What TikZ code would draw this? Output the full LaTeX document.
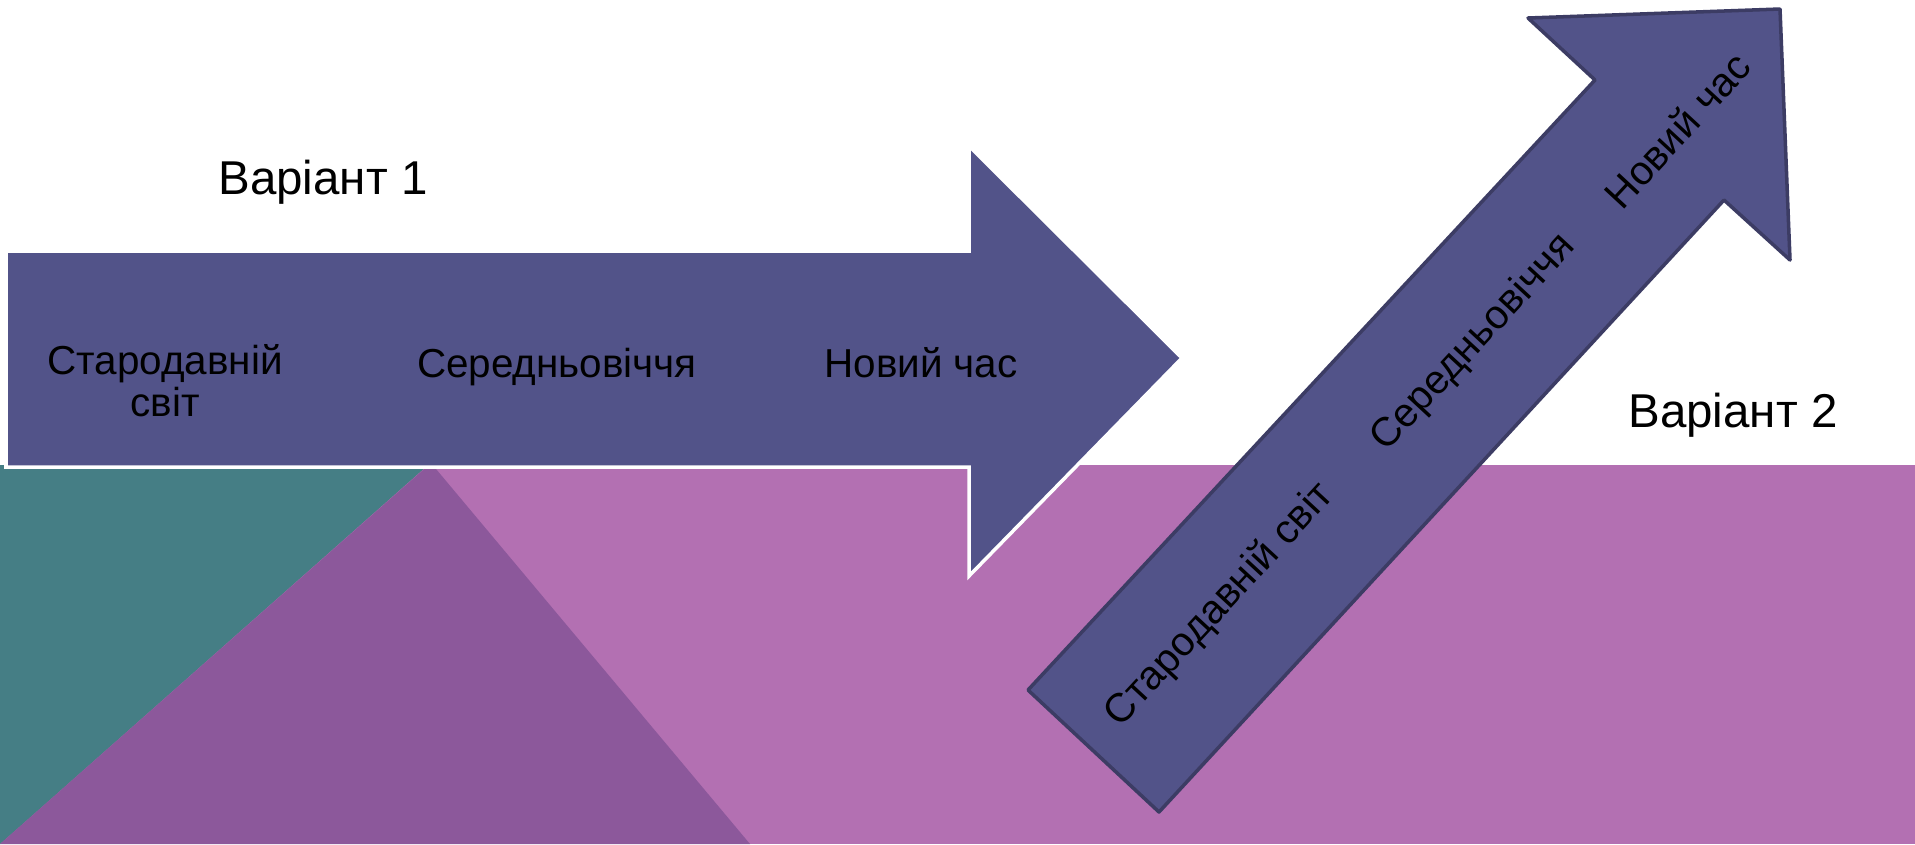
\documentclass[tikz,border=0pt]{standalone}
\usepackage{fontspec}
\setmainfont{Liberation Sans}
\usepackage{tikz}

\definecolor{arrowblue}{RGB}{82,83,137}
\definecolor{arrowedge}{RGB}{60,60,100}
\definecolor{bandpink}{RGB}{179,112,178}
\definecolor{bandpurple}{RGB}{140,88,155}
\definecolor{bandteal}{RGB}{69,126,133}

\begin{document}
\begin{tikzpicture}[
    x=0.01cm, y=-0.01cm,
    period/.style={font=\fontsize{11.5}{12}\selectfont, text=black, inner sep=0pt},
    variant/.style={font=\fontsize{13.5}{16}\selectfont, text=black, inner sep=0pt, anchor=base},
    flatarrow/.style={fill=arrowblue, draw=white, line width=1pt},
    tiltarrow/.style={fill=arrowblue, draw=arrowedge, line width=1pt, line join=round}
]
    \useasboundingbox (0,0) rectangle (1915,844);

    % Background
    \fill[white] (0,0) rectangle (1915,844);
    \fill[bandpink] (0,465) rectangle (1915,844);
    \fill[bandteal] (0,465) -- (428,465) -- (0,844) -- cycle;
    \fill[bandpurple] (0,844) -- (431,463) -- (750,844) -- cycle;

    % Variant 1
    \draw[flatarrow] (6,251) -- (969,251) -- (969,146) -- (1182,358) -- (969,576) -- (969,467) -- (6,467) -- cycle;
    \node[variant] (var1) at (323,194) {Варіант 1};
    \node[period, align=center] (ancient1) at (165,381) {Стародавній\\світ};
    \node[period, anchor=base] (middle1) at (557,377) {Середньовіччя};
    \node[period, anchor=base] (modern1) at (921,377) {Новий час};

    % Variant 2
    \draw[tiltarrow] (1028,690) -- (1595,80) -- (1528,18) -- (1780,9) -- (1790,260) -- (1724,200) -- (1159,812) -- cycle;
    \node[variant] (var2) at (1733,427) {Варіант 2};
    \node[period, rotate=47.2] (ancient2) at (1220,605) {Стародавній світ};
    \node[period, rotate=47.2] (middle2) at (1474,343) {Середньовіччя};
    \node[period, rotate=47.2] (modern2) at (1677,130) {Новий час};
\end{tikzpicture}
\end{document}
